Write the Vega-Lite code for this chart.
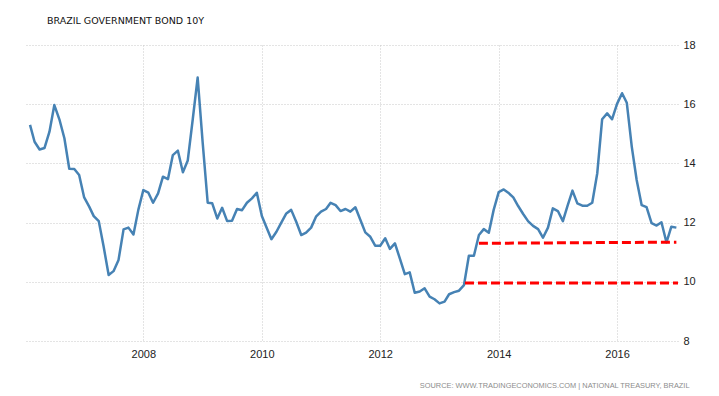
{
  "$schema": "https://vega.github.io/schema/vega-lite/v6.json",
  "width": 653,
  "height": 296,
  "autosize": {"type": "none"},
  "padding": {"left": 25, "top": 45, "right": 41, "bottom": 55},
  "background": "white",
  "title": {
    "text": "BRAZIL GOVERNMENT BOND 10Y",
    "anchor": "start",
    "dx": 22,
    "offset": 14,
    "font": "DejaVu Sans",
    "fontSize": 9.5,
    "fontWeight": "normal",
    "color": "#111111"
  },
  "config": {
    "view": {"stroke": null},
    "axis": {"labelFont": "Liberation Sans", "labelFontSize": 11, "labelColor": "#222222"}
  },
  "datasets": {
    "bond": [
      {"date": "2006-02-01", "value": 15.30},
      {"date": "2006-03-01", "value": 14.73},
      {"date": "2006-04-01", "value": 14.47},
      {"date": "2006-05-01", "value": 14.52},
      {"date": "2006-06-01", "value": 15.07},
      {"date": "2006-07-01", "value": 15.97},
      {"date": "2006-08-01", "value": 15.49},
      {"date": "2006-09-01", "value": 14.85},
      {"date": "2006-10-01", "value": 13.82},
      {"date": "2006-11-01", "value": 13.81},
      {"date": "2006-12-01", "value": 13.61},
      {"date": "2007-01-01", "value": 12.85},
      {"date": "2007-02-01", "value": 12.54},
      {"date": "2007-03-01", "value": 12.22},
      {"date": "2007-04-01", "value": 12.05},
      {"date": "2007-05-01", "value": 11.19},
      {"date": "2007-06-01", "value": 10.23},
      {"date": "2007-07-01", "value": 10.36},
      {"date": "2007-08-01", "value": 10.74},
      {"date": "2007-09-01", "value": 11.77},
      {"date": "2007-10-01", "value": 11.83},
      {"date": "2007-11-01", "value": 11.60},
      {"date": "2007-12-01", "value": 12.43},
      {"date": "2008-01-01", "value": 13.10},
      {"date": "2008-02-01", "value": 13.01},
      {"date": "2008-03-01", "value": 12.67},
      {"date": "2008-04-01", "value": 12.99},
      {"date": "2008-05-01", "value": 13.55},
      {"date": "2008-06-01", "value": 13.47},
      {"date": "2008-07-01", "value": 14.28},
      {"date": "2008-08-01", "value": 14.43},
      {"date": "2008-09-01", "value": 13.70},
      {"date": "2008-10-01", "value": 14.10},
      {"date": "2008-11-01", "value": 15.50},
      {"date": "2008-12-01", "value": 16.90},
      {"date": "2009-01-01", "value": 14.70},
      {"date": "2009-02-01", "value": 12.67},
      {"date": "2009-03-01", "value": 12.65},
      {"date": "2009-04-01", "value": 12.14},
      {"date": "2009-05-01", "value": 12.50},
      {"date": "2009-06-01", "value": 12.05},
      {"date": "2009-07-01", "value": 12.06},
      {"date": "2009-08-01", "value": 12.46},
      {"date": "2009-09-01", "value": 12.42},
      {"date": "2009-10-01", "value": 12.67},
      {"date": "2009-11-01", "value": 12.82},
      {"date": "2009-12-01", "value": 13.01},
      {"date": "2010-01-01", "value": 12.22},
      {"date": "2010-02-01", "value": 11.81},
      {"date": "2010-03-01", "value": 11.44},
      {"date": "2010-04-01", "value": 11.69},
      {"date": "2010-05-01", "value": 12.00},
      {"date": "2010-06-01", "value": 12.31},
      {"date": "2010-07-01", "value": 12.43},
      {"date": "2010-08-01", "value": 12.03},
      {"date": "2010-09-01", "value": 11.58},
      {"date": "2010-10-01", "value": 11.66},
      {"date": "2010-11-01", "value": 11.83},
      {"date": "2010-12-01", "value": 12.20},
      {"date": "2011-01-01", "value": 12.37},
      {"date": "2011-02-01", "value": 12.46},
      {"date": "2011-03-01", "value": 12.67},
      {"date": "2011-04-01", "value": 12.59},
      {"date": "2011-05-01", "value": 12.39},
      {"date": "2011-06-01", "value": 12.46},
      {"date": "2011-07-01", "value": 12.37},
      {"date": "2011-08-01", "value": 12.52},
      {"date": "2011-09-01", "value": 12.09},
      {"date": "2011-10-01", "value": 11.67},
      {"date": "2011-11-01", "value": 11.52},
      {"date": "2011-12-01", "value": 11.22},
      {"date": "2012-01-01", "value": 11.22},
      {"date": "2012-02-01", "value": 11.47},
      {"date": "2012-03-01", "value": 11.11},
      {"date": "2012-04-01", "value": 11.30},
      {"date": "2012-05-01", "value": 10.79},
      {"date": "2012-06-01", "value": 10.26},
      {"date": "2012-07-01", "value": 10.32},
      {"date": "2012-08-01", "value": 9.63},
      {"date": "2012-09-01", "value": 9.67},
      {"date": "2012-10-01", "value": 9.78},
      {"date": "2012-11-01", "value": 9.50},
      {"date": "2012-12-01", "value": 9.41},
      {"date": "2013-01-01", "value": 9.27},
      {"date": "2013-02-01", "value": 9.33},
      {"date": "2013-03-01", "value": 9.58},
      {"date": "2013-04-01", "value": 9.65},
      {"date": "2013-05-01", "value": 9.70},
      {"date": "2013-06-01", "value": 9.89},
      {"date": "2013-07-01", "value": 10.88},
      {"date": "2013-08-01", "value": 10.88},
      {"date": "2013-09-01", "value": 11.58},
      {"date": "2013-10-01", "value": 11.78},
      {"date": "2013-11-01", "value": 11.66},
      {"date": "2013-12-01", "value": 12.43},
      {"date": "2014-01-01", "value": 13.03},
      {"date": "2014-02-01", "value": 13.12},
      {"date": "2014-03-01", "value": 13.01},
      {"date": "2014-04-01", "value": 12.85},
      {"date": "2014-05-01", "value": 12.56},
      {"date": "2014-06-01", "value": 12.29},
      {"date": "2014-07-01", "value": 12.05},
      {"date": "2014-08-01", "value": 11.89},
      {"date": "2014-09-01", "value": 11.78},
      {"date": "2014-10-01", "value": 11.49},
      {"date": "2014-11-01", "value": 11.83},
      {"date": "2014-12-01", "value": 12.48},
      {"date": "2015-01-01", "value": 12.39},
      {"date": "2015-02-01", "value": 12.05},
      {"date": "2015-03-01", "value": 12.56},
      {"date": "2015-04-01", "value": 13.08},
      {"date": "2015-05-01", "value": 12.65},
      {"date": "2015-06-01", "value": 12.57},
      {"date": "2015-07-01", "value": 12.57},
      {"date": "2015-08-01", "value": 12.67},
      {"date": "2015-09-01", "value": 13.67},
      {"date": "2015-10-01", "value": 15.49},
      {"date": "2015-11-01", "value": 15.69},
      {"date": "2015-12-01", "value": 15.49},
      {"date": "2016-01-01", "value": 16.01},
      {"date": "2016-02-01", "value": 16.37},
      {"date": "2016-03-01", "value": 16.05},
      {"date": "2016-04-01", "value": 14.56},
      {"date": "2016-05-01", "value": 13.44},
      {"date": "2016-06-01", "value": 12.59},
      {"date": "2016-07-01", "value": 12.52},
      {"date": "2016-08-01", "value": 11.98},
      {"date": "2016-09-01", "value": 11.90},
      {"date": "2016-10-01", "value": 12.01},
      {"date": "2016-11-01", "value": 11.33},
      {"date": "2016-12-01", "value": 11.86},
      {"date": "2017-01-01", "value": 11.83}
    ],
    "levels": [
      {"level": "support", "date": "2013-06-07", "value": 9.96},
      {"level": "support", "date": "2017-01-11", "value": 9.96},
      {"level": "resistance", "date": "2013-09-01", "value": 11.30},
      {"level": "resistance", "date": "2017-01-01", "value": 11.34}
    ]
  },
  "layer": [
    {
      "data": {"name": "bond"},
      "mark": {"type": "line", "color": "#4682b4", "strokeWidth": 2.5, "strokeJoin": "round"},
      "encoding": {
        "x": {
          "field": "date",
          "type": "temporal",
          "scale": {"type": "utc", "domain": [{"year": 2006, "month": 1, "date": 1, "utc": true}, {"year": 2017, "month": 1, "date": 11, "utc": true}]},
          "axis": {
            "values": [
              {"year": 2008, "utc": true},
              {"year": 2010, "utc": true},
              {"year": 2012, "utc": true},
              {"year": 2014, "utc": true},
              {"year": 2016, "utc": true}
            ],
            "format": "%Y",
            "domain": false,
            "ticks": false,
            "labelPadding": 7,
            "grid": true,
            "gridColor": "#c8c8c8",
            "gridDash": [1, 2],
            "gridWidth": 1,
            "title": "SOURCE: WWW.TRADINGECONOMICS.COM | NATIONAL TREASURY, BRAZIL",
            "titleFont": "Liberation Sans",
            "titleFontSize": 7.4,
            "titleFontWeight": "normal",
            "titleColor": "#8c8c8c",
            "titleAlign": "right",
            "titleAnchor": "end",
            "titleBaseline": "alphabetic",
            "titleX": 664,
            "titleY": 46
          }
        },
        "y": {
          "field": "value",
          "type": "quantitative",
          "scale": {"domain": [8, 18], "nice": false, "zero": false},
          "axis": {
            "orient": "right",
            "values": [8, 10, 12, 14, 16, 18],
            "domain": false,
            "ticks": false,
            "labelPadding": 5,
            "grid": true,
            "gridColor": "#c8c8c8",
            "gridDash": [1, 2],
            "gridWidth": 1,
            "title": null
          }
        }
      }
    },
    {
      "data": {"name": "levels"},
      "mark": {"type": "line", "color": "#ff0000", "strokeWidth": 3, "strokeDash": [9, 4]},
      "encoding": {
        "x": {"field": "date", "type": "temporal"},
        "y": {"field": "value", "type": "quantitative"},
        "detail": {"field": "level"}
      }
    }
  ]
}
